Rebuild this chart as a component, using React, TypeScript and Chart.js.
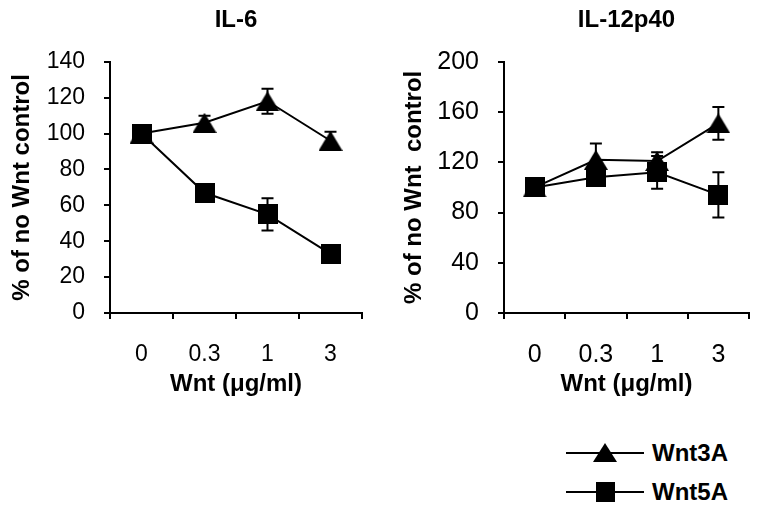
import React, { useEffect, useRef } from 'react';
import { Chart, registerables } from 'chart.js';
Chart.register(...registerables);

const categories = ['0', '0.3', '1', '3'];

const il6Wnt3A = [100, 106, 118, 96];
const il6Wnt3AErr = [0, 4, 7, 5];
const il6Wnt5A = [100, 67, 55, 33];
const il6Wnt5AErr = [0, 3, 9, 0];

const il12Wnt3A = [100, 122, 121, 151];
const il12Wnt3AErr = [0, 13, 7, 13];
const il12Wnt5A = [100, 108, 112, 94];
const il12Wnt5AErr = [0, 3, 13, 18];

const seriesNames = ['Wnt3A', 'Wnt5A'];

const FONT = '"Liberation Sans", Arial, sans-serif';

function makeTriangle(w: number, h: number) {
  const c = document.createElement('canvas');
  c.width = w;
  c.height = h;
  const ctx = c.getContext('2d')!;
  ctx.fillStyle = '#000';
  ctx.beginPath();
  ctx.moveTo(w / 2, 0);
  ctx.lineTo(w, h);
  ctx.lineTo(0, h);
  ctx.closePath();
  ctx.fill();
  return c;
}
function makeSquare(s: number) {
  const c = document.createElement('canvas');
  c.width = s;
  c.height = s;
  const ctx = c.getContext('2d')!;
  ctx.fillStyle = '#000';
  ctx.fillRect(0, 0, s, s);
  return c;
}

const errorBarPlugin = {
  id: 'errorBars',
  afterDatasetsDraw(chart: any, _args: any, opts: any) {
    const errs: number[][] = opts.errors || [];
    const ctx = chart.ctx;
    const ys = chart.scales.y;
    chart.data.datasets.forEach((ds: any, i: number) => {
      const e = errs[i];
      if (!e) return;
      const meta = chart.getDatasetMeta(i);
      meta.data.forEach((pt: any, j: number) => {
        const err = e[j];
        if (!err) return;
        const v = ds.data[j];
        const x = pt.x;
        const top = ys.getPixelForValue(v + err);
        const bot = ys.getPixelForValue(v - err);
        ctx.save();
        ctx.strokeStyle = '#000';
        ctx.lineWidth = 2;
        ctx.beginPath();
        ctx.moveTo(x, top);
        ctx.lineTo(x, bot);
        ctx.moveTo(x - 6, top);
        ctx.lineTo(x + 6, top);
        ctx.moveTo(x - 6, bot);
        ctx.lineTo(x + 6, bot);
        ctx.stroke();
        ctx.restore();
      });
    });
  },
};

type PanelProps = {
  title: string;
  yTitle: string;
  a: number[];
  aErr: number[];
  b: number[];
  bErr: number[];
  yMax: number;
  yStep: number;
  padLeft: number;
  padRight: number;
  yWidth: number;
  tickSize: number;
  xTickPad: number;
};

function Panel(p: PanelProps) {
  const ref = useRef<HTMLCanvasElement>(null);
  useEffect(() => {
    const tri = makeTriangle(24, 20);
    const sq = makeSquare(20);
    const chart = new Chart(ref.current!, {
      type: 'line',
      data: {
        labels: categories,
        datasets: [
          {
            label: seriesNames[0],
            data: p.a,
            borderColor: '#000',
            backgroundColor: '#000',
            borderWidth: 2,
            pointStyle: tri as any,
            tension: 0,
          },
          {
            label: seriesNames[1],
            data: p.b,
            borderColor: '#000',
            backgroundColor: '#000',
            borderWidth: 2,
            pointStyle: sq as any,
            tension: 0,
          },
        ],
      },
      plugins: [errorBarPlugin as any],
      options: {
        responsive: false,
        animation: false,
        devicePixelRatio: 1,
        layout: { padding: { left: p.padLeft, right: p.padRight, top: 0, bottom: 0 } },
        plugins: {
          legend: { display: false },
          tooltip: { enabled: false },
          title: {
            display: true,
            text: p.title,
            fullSize: false,
            color: '#000',
            font: { family: FONT, size: 24, weight: 'bold' },
            padding: { top: 6, bottom: 27 },
          },
          errorBars: { errors: [p.aErr, p.bErr] },
        } as any,
        scales: {
          x: {
            type: 'category',
            offset: true,
            afterFit: (s: any) => {
              s.height = 87;
            },
            grid: {
              display: true,
              offset: true,
              drawOnChartArea: false,
              drawTicks: true,
              tickLength: 6,
              color: '#000',
              lineWidth: 2,
            },
            border: { display: true, color: '#000', width: 2 },
            ticks: {
              color: '#000',
              font: { family: FONT, size: p.tickSize },
              padding: p.xTickPad,
              maxRotation: 0,
            },
            title: {
              display: true,
              text: 'Wnt (\u03bcg/ml)',
              color: '#000',
              font: { family: FONT, size: 24, weight: 'bold' },
              padding: { top: 0, bottom: 1 },
            },
          },
          y: {
            min: 0,
            max: p.yMax,
            afterFit: (s: any) => {
              s.width = p.yWidth;
            },
            grid: {
              display: true,
              drawOnChartArea: false,
              drawTicks: true,
              tickLength: 6,
              color: '#000',
              lineWidth: 2,
            },
            border: { display: true, color: '#000', width: 2 },
            ticks: {
              stepSize: p.yStep,
              color: '#000',
              font: { family: FONT, size: p.tickSize },
              padding: 19,
            },
            title: {
              display: true,
              text: p.yTitle,
              color: '#000',
              font: { family: FONT, size: 24, weight: 'bold' },
              padding: { top: 0, bottom: 0 },
            },
          },
        },
      },
    });
    return () => chart.destroy();
  }, []);
  return <canvas ref={ref} width={381} height={400} />;
}

function LegendRow({ top, shape, label }: { top: number; shape: 'tri' | 'sq'; label: string }) {
  return (
    <div style={{ position: 'absolute', left: 560, top: top - 20, width: 200, height: 40 }}>
      <svg width={90} height={40} style={{ position: 'absolute', left: 0, top: 0 }}>
        <line x1={6} y1={20} x2={84} y2={20} stroke="#000" strokeWidth={2} />
        {shape === 'tri' ? (
          <polygon points="45,10 57,29 33,29" fill="#000" />
        ) : (
          <rect x={36} y={10} width={19} height={20} fill="#000" />
        )}
      </svg>
      <span
        style={{
          position: 'absolute',
          left: 92,
          top: 5,
          fontFamily: FONT,
          fontWeight: 'bold',
          fontSize: 24,
          lineHeight: '30px',
          color: '#000',
        }}
      >
        {label}
      </span>
    </div>
  );
}

export default function App() {
  return (
    <div
      style={{
        position: 'fixed',
        left: 0,
        top: 0,
        width: 762,
        height: 512,
        background: '#fff',
        overflow: 'hidden',
      }}
    >
      <div style={{ position: 'absolute', left: 0, top: 0 }}>
        <Panel
          title="IL-6"
          yTitle="% of no Wnt control"
          a={il6Wnt3A}
          aErr={il6Wnt3AErr}
          b={il6Wnt5A}
          bErr={il6Wnt5AErr}
          yMax={140}
          yStep={20}
          padLeft={8}
          padRight={19}
          yWidth={102}
          tickSize={23}
          xTickPad={22}
        />
      </div>
      <div style={{ position: 'absolute', left: 381, top: 0 }}>
        <Panel
          title="IL-12p40"
          yTitle="% of no Wnt  control"
          a={il12Wnt3A}
          aErr={il12Wnt3AErr}
          b={il12Wnt5A}
          bErr={il12Wnt5AErr}
          yMax={200}
          yStep={40}
          padLeft={19}
          padRight={13}
          yWidth={104}
          tickSize={25}
          xTickPad={21}
        />
      </div>
      <LegendRow top={453} shape="tri" label={seriesNames[0]} />
      <LegendRow top={492} shape="sq" label={seriesNames[1]} />
    </div>
  );
}
